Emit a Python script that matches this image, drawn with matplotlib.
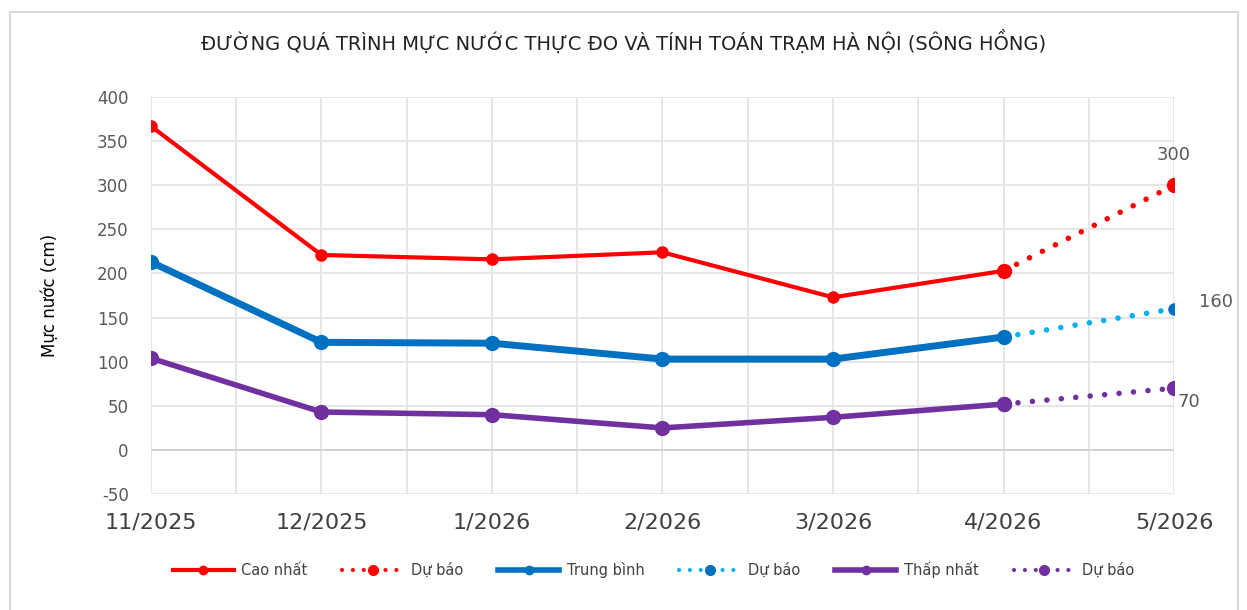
import numpy as np
import matplotlib.pyplot as plt
from matplotlib.lines import Line2D
from matplotlib.patches import Rectangle

# data
months = ['11/2025', '12/2025', '1/2026', '2/2026', '3/2026', '4/2026', '5/2026']
cao_nhat = [367, 221, 216, 224, 173, 203]
trung_binh = [213, 122, 121, 103, 103, 128]
thap_nhat = [104, 43, 40, 25, 37, 52]
du_bao_cao = [203, 300]
du_bao_tb = [128, 160]
du_bao_thap = [52, 70]

RED = '#FF0000'
BLUE = '#0070C0'
LBLUE = '#00B0F0'
PURPLE = '#7030A0'
GRAY = '#595959'

plt.rcParams['font.family'] = ['DejaVu Sans']
plt.rcParams['axes.unicode_minus'] = False

fig = plt.figure(figsize=(12.47, 6.10), dpi=100)
fig.patches.append(Rectangle((0.008, -0.01), 0.985, 0.99, transform=fig.transFigure,
                             fill=False, edgecolor='#D9D9D9', lw=1.5))
ax = fig.add_axes([0.121, 0.190, 0.8205, 0.651])

x = np.arange(len(months))
xs = x[:6]
xf = x[5:]

dots = (0, (0.01, 2.6))
ax.plot(xf, du_bao_cao, color=RED, lw=4, linestyle=dots, dash_capstyle='round',
        marker='o', markersize=10, zorder=3)
ax.plot(xf, du_bao_tb, color=LBLUE, lw=4, linestyle=dots, dash_capstyle='round',
        marker='o', markersize=8, markerfacecolor=BLUE, markeredgecolor=BLUE, zorder=3)
ax.plot(xf, du_bao_thap, color=PURPLE, lw=4, linestyle=dots, dash_capstyle='round',
        marker='o', markersize=10, zorder=3)

ax.plot(xs, cao_nhat, color=RED, lw=3, marker='o', markersize=8, zorder=4)
ax.plot(xs, trung_binh, color=BLUE, lw=5, marker='o', markersize=10, zorder=4)
ax.plot(xs, thap_nhat, color=PURPLE, lw=4, marker='o', markersize=10, zorder=4)

# data labels
ax.annotate('300', (6, 300), xytext=(0, 22), textcoords='offset points',
            ha='center', va='center', fontsize=13, color=GRAY)
ax.annotate('160', (6, 160), xytext=(30, 5), textcoords='offset points',
            ha='center', va='center', fontsize=13, color=GRAY)
ax.annotate('70', (6, 70), xytext=(11, -10), textcoords='offset points',
            ha='center', va='center', fontsize=13, color=GRAY)

ax.set_xlim(0, 6)
ax.set_ylim(-50, 400)
ax.set_yticks(np.arange(-50, 401, 50))
ax.set_xticks(x)
ax.set_xticklabels(months, fontsize=16, color='#404040')
ax.set_xticks(np.arange(0.5, 6, 1), minor=True)
ax.tick_params(axis='x', which='both', length=0, pad=13)
ax.tick_params(axis='y', length=0, labelsize=12, labelcolor=GRAY, pad=16)
ax.grid(True, which='both', color='#E4E4E4', lw=1.3)
ax.set_axisbelow(True)
ax.axhline(0, color='#D0D0D0', lw=1.3, zorder=1)
for s in ax.spines.values():
    s.set_visible(False)

ax.set_ylabel('Mực nước (cm)', fontsize=12, color='black')
ax.yaxis.set_label_coords(-0.09, 0.5)

fig.text(0.5, 0.931, 'ĐƯỜNG QUÁ TRÌNH MỰC NƯỚC THỰC ĐO VÀ TÍNH TOÁN TRẠM HÀ NỘI (SÔNG HỒNG)',
         ha='center', va='center', fontsize=14, color='#222222')

handles = [
    Line2D([], [], color=RED, lw=3, marker='o', markersize=6),
    Line2D([], [], color=RED, lw=3, linestyle=dots, dash_capstyle='round', marker='o', markersize=7),
    Line2D([], [], color=BLUE, lw=4, marker='o', markersize=6),
    Line2D([], [], color=LBLUE, lw=3, linestyle=dots, dash_capstyle='round', marker='o',
           markersize=7, markerfacecolor=BLUE, markeredgecolor=BLUE),
    Line2D([], [], color=PURPLE, lw=4, marker='o', markersize=6),
    Line2D([], [], color=PURPLE, lw=3, linestyle=dots, dash_capstyle='round', marker='o', markersize=7),
]
labels = ['Cao nhất', 'Dự báo', 'Trung bình', 'Dự báo', 'Thấp nhất', 'Dự báo']
fig.legend(handles, labels, loc='center', bbox_to_anchor=(0.524, 0.066), ncol=6,
           frameon=False, fontsize=10.5, handlelength=4.2, columnspacing=2.4,
           handletextpad=0.5, labelcolor='#404040')

fig.savefig('out.png', dpi=100)
